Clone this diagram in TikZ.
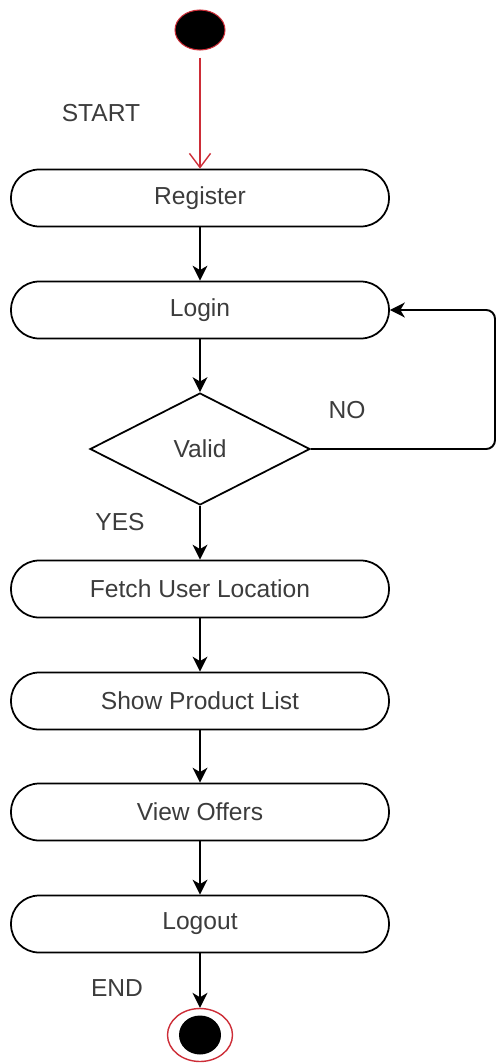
\documentclass[tikz,border=0pt]{standalone}
\usepackage{fontspec}
\setmainfont{Liberation Sans}
\usepackage{tikz}
\usepackage{xcolor}
\usetikzlibrary{shapes.geometric, arrows.meta, positioning, calc}

\definecolor{startred}{RGB}{205,45,55}
\definecolor{txtgray}{RGB}{60,60,60}

\begin{document}
\begin{tikzpicture}[x=0.02cm, y=-0.02cm,
    activity/.style={draw, line width=1pt, rounded corners=0.56cm, minimum width=7.56cm, minimum height=1.14cm, text=txtgray, font=\fontsize{14}{16}\selectfont},
    decision/.style={draw, line width=1pt, diamond, inner sep=0pt, minimum width=4.4cm, minimum height=2.24cm, text=txtgray, font=\fontsize{14}{16}\selectfont},
    flow/.style={draw, line width=1.1pt, -{Stealth[length=8.5pt, width=8.5pt, inset=2.5pt]}},
    lbl/.style={text=txtgray, font=\fontsize{14}{16}\selectfont}]
\useasboundingbox (0,0) rectangle (498,1064);

% Initial state
\node[ellipse, fill=black, draw=startred, line width=0.6pt, minimum width=1cm, minimum height=0.8cm] (start) at (200,30) {};
\node[lbl] (startlbl) at (101,113) {START};

% Activities
\node[activity] (register) at (200,198) {Register};
\node[activity] (login) at (200,310) {Login};
\node[decision] (valid) at (200,449) {Valid};
\node[activity] (fetch) at (200,589) {Fetch User Location};
\node[activity] (show) at (200,701) {Show Product List};
\node[activity] (offers) at (200,812) {View Offers};
\node[activity] (logout) at (200,924) {Logout};

% Final state
\node[ellipse, draw=startred, line width=0.8pt, fill=white, minimum width=1.3cm, minimum height=1.06cm] (stop) at (200,1035) {};
\node[ellipse, fill=black, inner sep=0pt, minimum width=0.84cm, minimum height=0.78cm] (stopdot) at (stop.center) {};

% Labels
\node[lbl] (nolbl) at (347,410) {NO};
\node[lbl] (yeslbl) at (120,522) {YES};
\node[lbl] (endlbl) at (117,988) {END};

% Transitions
\draw[startred, line width=0.8pt, -{Straight Barb[length=8pt, width=12pt]}, shorten <=4pt] (start) -- (register);
\draw[flow] (register) -- (login);
\draw[flow] (login) -- (valid);
\draw[flow] (valid) -- (fetch);
\draw[flow] (fetch) -- (show);
\draw[flow] (show) -- (offers);
\draw[flow] (offers) -- (logout);
\draw[flow] (logout) -- (stop);

% Invalid login loops back
\coordinate (back) at (495,449);
\draw[flow, rounded corners=5pt] (valid.east) -- (back) |- (login.east);
\end{tikzpicture}
\end{document}
